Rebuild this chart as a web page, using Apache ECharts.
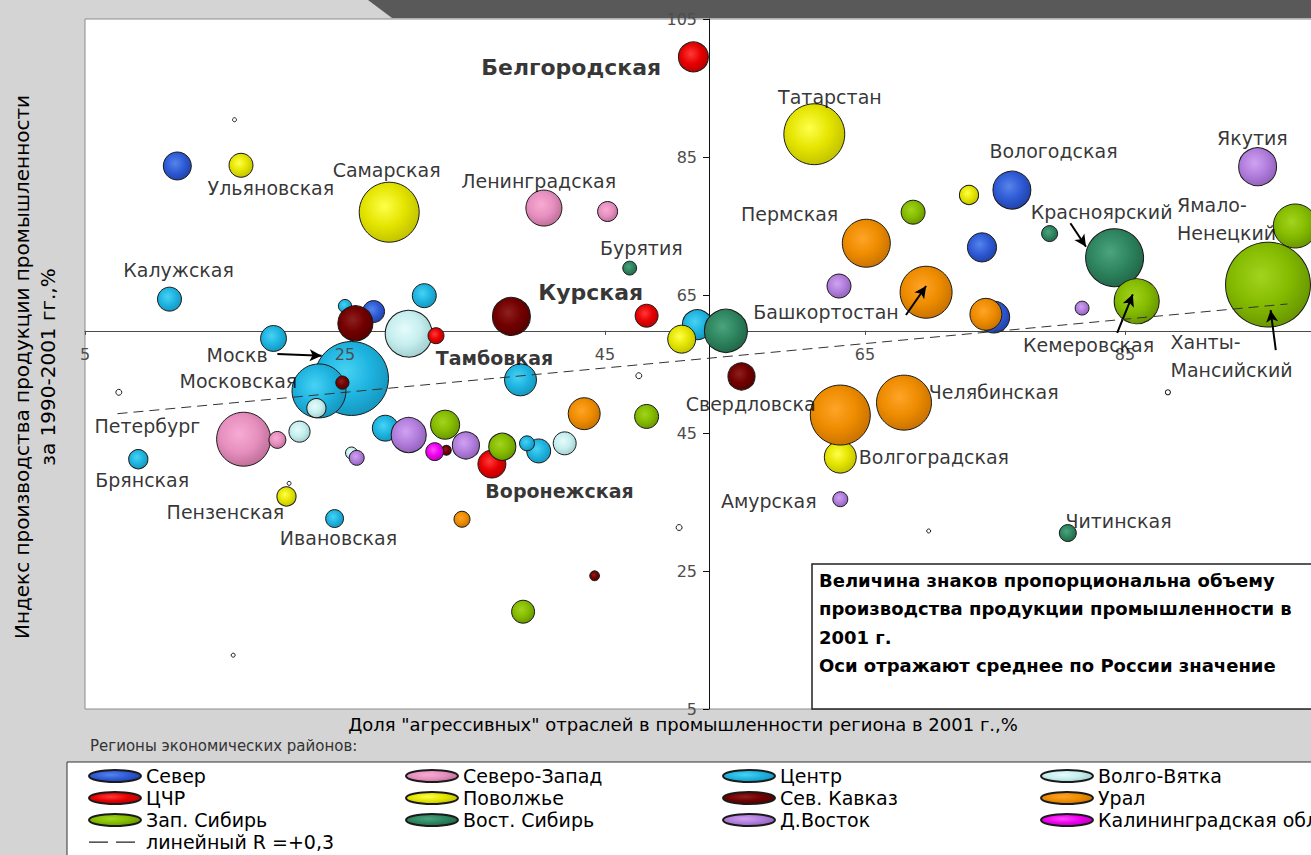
<!DOCTYPE html>
<html>
<head>
<meta charset="utf-8">
<style>
  html, body { margin: 0; padding: 0; background: #d4d4d4; }
  #chart { width: 1311px; height: 855px; }
</style>
<script src="https://cdn.jsdelivr.net/npm/echarts@6/dist/echarts.min.js"></script>
</head>
<body>
<div id="chart"></div>
<script>
// [доля агрессивных отраслей %, индекс производства %, объем производства 2001 (усл. ед.)]
const sever = [[12.1, 83.7, 49], [76.3, 80.2, 90], [74.0, 71.9, 53], [74.9, 61.8, 64], [27.2, 62.6, 30]]
const centr = [[25.5, 52.9, 342], [23.0, 51.1, 182], [11.5, 64.4, 36], [52.1, 60.7, 56], [38.5, 52.7, 64],
  [39.9, 42.4, 36], [39.0, 43.5, 14], [28.1, 45.7, 42], [9.1, 41.2, 23], [24.2, 32.6, 20],
  [19.5, 58.7, 42], [25.0, 63.4, 11], [31.1, 64.9, 36]]
const volgoVyatka = [[29.9, 59.4, 138], [41.9, 43.5, 33], [25.5, 42.1, 9], [21.5, 45.2, 28], [22.8, 48.6, 23]]
const cchr = [[51.8, 99.5, 56], [48.2, 62.0, 33], [36.3, 40.5, 49], [32.0, 59.1, 16]]
const povolzhye = [[28.4, 77.0, 225], [61.1, 88.3, 232], [17.0, 83.8, 36], [73.0, 79.5, 23],
  [63.1, 41.5, 64], [50.9, 58.6, 49], [20.5, 35.8, 23]]
const vostSibir = [[84.2, 70.4, 210], [54.3, 59.8, 116], [46.9, 68.9, 12], [79.2, 73.9, 16], [80.6, 30.5, 18]]
const zapSibir = [[96.0, 66.5, 451], [98.1, 75.0, 121], [85.9, 64.1, 127], [68.7, 77.0, 36],
  [48.2, 47.4, 36], [37.1, 43.0, 46], [32.7, 46.2, 53], [38.7, 19.1, 33]]
const severoZapad = [[17.2, 44.1, 182], [40.3, 77.6, 81], [45.2, 77.1, 25], [19.8, 44.0, 18]]
const sevKavkaz = [[37.8, 61.9, 90], [25.8, 60.9, 77], [55.5, 53.2, 46], [24.8, 52.3, 11], [32.8, 42.5, 6], [44.2, 24.3, 6]]
const dVostok = [[95.2, 83.6, 90], [29.9, 44.7, 77], [34.3, 43.2, 46], [63.0, 66.3, 36],
  [81.7, 63.1, 12], [63.1, 35.4, 14], [25.9, 41.4, 14]]
const ural = [[63.1, 47.6, 225], [68.0, 49.4, 189], [69.7, 65.4, 169], [65.1, 72.5, 144],
  [74.3, 62.2, 64], [43.4, 47.8, 64], [34.0, 32.5, 16]]
const kaliningrad = [[31.9, 42.3, 20]]
const other = [[16.5, 90.4, 1], [88.3, 50.9, 1.6], [69.9, 30.8, 1], [47.6, 53.3, 2.2],
  [50.7, 31.3, 2.2], [20.7, 37.7, 1], [7.6, 50.9, 2.2], [16.4, 12.8, 1]]

// линейный тренд (концы линии)
const trendLine = [[7.5, 47.8], [97.5, 63.7]]

// подписи регионов
const labelNames = ['Белгородская', 'Татарстан', 'Вологодская', 'Якутия', 'Самарская', 'Ульяновская',
  'Ленинградская', 'Пермская', 'Красноярский', 'Ямало-\nНенецкий', 'Бурятия', 'Калужская', 'Курская',
  'Башкортостан', 'Москв', 'Московская', 'Тамбовкая', 'Кемеровская', 'Ханты-\nМансийский', 'Челябинская',
  'Свердловска', 'Петербург', 'Волгоградская', 'Брянская', 'Воронежская', 'Амурская', 'Пензенская',
  'Читинская', 'Ивановская']
const labelX = [42.4, 62.3, 79.5, 94.8, 28.2, 19.3, 39.9, 59.2, 83.2, 89.0, 47.8, 12.2, 43.9,
  62.0, 16.7, 16.8, 36.5, 82.2, 88.5, 74.9, 56.2, 9.8, 70.3, 9.4, 41.5, 57.6, 15.8, 84.5, 24.5]
const labelY = [97.9, 93.7, 85.9, 87.8, 83.1, 80.5, 81.5, 76.7, 77.0, 76.0, 71.8, 68.6, 65.3,
  62.5, 56.3, 52.5, 55.9, 57.8, 56.2, 50.9, 49.2, 46.0, 41.5, 38.2, 36.6, 35.1, 33.6, 32.2, 29.8]

// стрелки к подписям: [x1, y1, x2, y2]
const arrows = [[19.8, 56.45, 23.2, 56.2], [80.8, 75.4, 82.0, 72.0], [68.15, 62.1, 69.7, 66.3],
  [84.4, 59.5, 85.6, 65.1], [96.6, 57.0, 96.2, 62.8]]

const X_MIN = 5, X_MAX = 100, Y_MIN = 5, Y_MAX = 105
const CROSS_X = 53, CROSS_Y = 59.8   // оси проходят через среднее по России
const GRID = { left: 85, top: 19, width: 1235, height: 690 }
const FONT = 'DejaVu Sans'

const BIG_BOLD = ['Белгородская', 'Курская']
const BOLD = ['Тамбовкая', 'Воронежская']
const LEFT = ['Ямало-\nНенецкий', 'Ханты-\nМансийский']

const ELLIPSE = 'path://M0,6C0,2.7 11.6,0 26,0C40.4,0 52,2.7 52,6C52,9.3 40.4,12 26,12C11.6,12 0,9.3 0,6Z'
// два штриха, крошечные квадраты в углах задают рамку 52x12
const DASHES = 'path://M0,0H0.05V0.05H0Z M0,5.4H19V6.7H0Z M27,5.4H46V6.7H27Z M51.95,11.95H52V12H51.95Z'

function bubbleStyle(base, light, dark) {
  return {
    color: {
      type: 'radial', x: 0.42, y: 0.4, r: 0.62,
      colorStops: [{ offset: 0, color: light }, { offset: 0.55, color: base }, { offset: 1, color: dark }]
    },
    borderColor: '#1a1a1a',
    borderWidth: 1,
    opacity: 1
  }
}

// порядок отрисовки
const regions = [
  ['', other, ['#ffffff', '#ffffff', '#eeeeee']],
  ['Север', sever, ['#2f5bd6', '#5585ea', '#2142a8']],
  ['Центр', centr, ['#1eb4e0', '#48d2f4', '#1596be']],
  ['Волго-Вятка', volgoVyatka, ['#c6eeee', '#e6fbfb', '#a2cfcf']],
  ['ЦЧР', cchr, ['#e60000', '#ff3a3a', '#b80000']],
  ['Поволжье', povolzhye, ['#e4e400', '#ffff4a', '#c2c200']],
  ['Вост. Сибирь', vostSibir, ['#2e8560', '#4aa47c', '#216648']],
  ['Зап. Сибирь', zapSibir, ['#84bb00', '#a2d41e', '#689600']],
  ['Северо-Запад', severoZapad, ['#e690bf', '#f8aad3', '#c06e9a']],
  ['Сев. Кавказ', sevKavkaz, ['#720000', '#8e2020', '#560000']],
  ['Д.Восток', dVostok, ['#b27edc', '#cfa2f2', '#9262bc']],
  ['Урал', ural, ['#ee8c00', '#ffa428', '#c87200']],
  ['Калининградская обл', kaliningrad, ['#ee00ee', '#ff4aff', '#bc00bc']]
]

const TREND_NAME = 'линейный R =+0,3'

const xOffset = -GRID.height * (CROSS_Y - Y_MIN) / (Y_MAX - Y_MIN)
const yOffset = -GRID.width * (CROSS_X - X_MIN) / (X_MAX - X_MIN)

function makeX(main) {
  return {
    type: 'value', min: X_MIN, max: X_MAX, interval: 20, position: 'bottom',
    offset: xOffset, z: main ? 1 : 12,
    axisLine: { show: main, onZero: false, lineStyle: { color: '#4a4a4a', width: 1 } },
    axisTick: { show: main, length: 4, lineStyle: { color: '#4a4a4a' } },
    axisLabel: { show: !main, margin: 16, color: '#4d4d4d', fontSize: 16, fontFamily: FONT, showMaxLabel: false },
    splitLine: { show: false }
  }
}

function makeY(main) {
  return {
    type: 'value', min: Y_MIN, max: Y_MAX, interval: 20, position: 'left',
    offset: yOffset, z: main ? 1 : 12,
    axisLine: { show: main, onZero: false, lineStyle: { color: '#111', width: 1 } },
    axisTick: { show: main, length: 6, lineStyle: { color: '#111' } },
    axisLabel: { show: !main, margin: 12, color: '#4d4d4d', fontSize: 16, fontFamily: FONT },
    splitLine: { show: false }
  }
}

const legendBase = {
  orient: 'vertical', top: 766, padding: 0, itemWidth: 52, itemHeight: 12, itemGap: 2,
  icon: ELLIPSE, selectedMode: false,
  textStyle: { fontSize: 19, fontFamily: FONT, color: '#000', lineHeight: 20 }
}

const legendCols = [
  [88, ['Север', 'ЦЧР', 'Зап. Сибирь',
    { name: TREND_NAME, icon: DASHES, itemStyle: { color: '#222', opacity: 1, borderWidth: 0 } }]],
  [405, ['Северо-Запад', 'Поволжье', 'Вост. Сибирь']],
  [722, ['Центр', 'Сев. Кавказ', 'Д.Восток']],
  [1040, ['Волго-Вятка', 'Урал', 'Калининградская обл']]
]

function buildOption() {
  const bubbleSeries = regions.map(([name, data, c]) => ({
    type: 'scatter',
    name: name,
    data: data,
    symbolSize: v => 4 * Math.sqrt(v[2]),
    itemStyle: bubbleStyle(c[0], c[1], c[2]),
    silent: true,
    z: 2
  }))

  const labelData = labelNames.map((name, i) => {
    const item = { name: name, value: [labelX[i], labelY[i]] }
    if (BIG_BOLD.includes(name)) item.label = { fontWeight: 'bold', fontSize: 22 }
    if (BOLD.includes(name)) item.label = { fontWeight: 'bold', fontSize: 19 }
    if (LEFT.includes(name)) item.label = { align: 'left', lineHeight: 28 }
    return item
  })

  return {
    animation: false,
    backgroundColor: '#d4d4d4',
    textStyle: { fontFamily: FONT },
    grid: {
      left: GRID.left, top: GRID.top, width: GRID.width, height: GRID.height,
      show: true, backgroundColor: '#fff', borderColor: '#8c8c8c', borderWidth: 1,
      containLabel: false, outerBoundsMode: 'none'
    },
    xAxis: [makeX(true), makeX(false)],
    yAxis: [makeY(true), makeY(false)],
    legend: legendCols.map(([left, data]) => Object.assign({}, legendBase, { left: left, data: data })),
    graphic: [
      { type: 'polygon', z: 1, shape: { points: [[368, 0], [1311, 0], [1311, 18], [392, 18]] }, style: { fill: '#595959' } },
      {
        type: 'text', x: 35, y: 367, rotation: Math.PI / 2,
        style: {
          text: 'Индекс производства продукции промышленности\nза 1990-2001 гг.,%',
          fontSize: 20, fontFamily: FONT, fill: '#000', align: 'center', verticalAlign: 'middle', lineHeight: 26
        }
      },
      {
        type: 'text', x: 683, y: 724,
        style: {
          text: 'Доля "агрессивных" отраслей в промышленности региона в 2001 г.,%',
          fontSize: 18, fontFamily: FONT, fill: '#000', align: 'center', verticalAlign: 'middle'
        }
      },
      {
        type: 'text', x: 90, y: 746,
        style: { text: 'Регионы экономических районов:', fontSize: 15, fontFamily: FONT, fill: '#333', verticalAlign: 'middle' }
      },
      { type: 'rect', z: 0, shape: { x: 67, y: 762, width: 1300, height: 120 }, style: { fill: '#fff', stroke: '#333', lineWidth: 1 } },
      { type: 'rect', z: 30, shape: { x: 812, y: 564, width: 520, height: 145 }, style: { fill: '#fff', stroke: '#222', lineWidth: 1.5 } },
      {
        type: 'text', z: 31, x: 819, y: 566,
        style: {
          text: 'Величина знаков пропорциональна объему\nпроизводства продукции промышленности в\n2001 г.\nОси отражают среднее по России значение',
          fontSize: 18, fontWeight: 'bold', fontFamily: FONT, fill: '#000', verticalAlign: 'top', lineHeight: 28.5
        }
      }
    ],
    series: bubbleSeries.concat([
      {
        type: 'line',
        name: TREND_NAME,
        data: trendLine,
        symbol: 'none',
        silent: true,
        z: 15,
        itemStyle: { color: '#222' },
        lineStyle: { type: [10, 6], color: '#333', width: 1 }
      },
      {
        type: 'scatter',
        name: 'подписи',
        data: labelData,
        symbolSize: 1,
        silent: true,
        z: 20,
        itemStyle: { color: 'rgba(0,0,0,0)' },
        label: {
          show: true, position: 'inside', formatter: p => p.name,
          color: '#000', fontSize: 19, fontFamily: FONT
        },
        markLine: {
          silent: true,
          symbol: ['none', 'arrow'],
          symbolSize: [9, 12],
          label: { show: false },
          lineStyle: { color: '#000', width: 2, type: 'solid' },
          data: arrows.map(a => [{ coord: [a[0], a[1]] }, { coord: [a[2], a[3]] }])
        }
      }
    ])
  }
}

const chart = echarts.init(document.getElementById('chart'), null, { renderer: 'svg' })
chart.setOption(buildOption())
</script>
</body>
</html>
